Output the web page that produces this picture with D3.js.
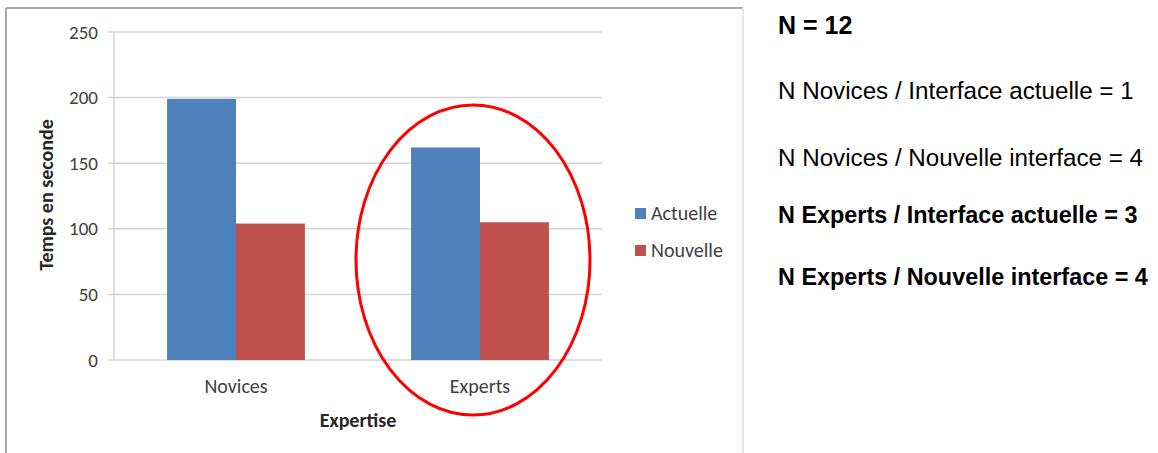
<!DOCTYPE html>
<html lang="fr">
<head>
<meta charset="UTF-8">
<title>Temps en seconde par expertise</title>
<script src="https://d3js.org/d3.v7.min.js"></script>
<style>
  body { margin: 0; background: #fff; }
  svg { display: block; }
</style>
</head>
<body>
<div id="chart"></div>
<script>
// data
const categories = ["Novices", "Experts"];
const series = ["Actuelle", "Nouvelle"];
const actuelle = [199, 162];
const nouvelle = [104, 105];
const yTicks = [0, 50, 100, 150, 200, 250];
const notes = [
  { text: "N = 12", bold: true },
  { text: "N Novices / Interface actuelle = 1", bold: false },
  { text: "N Novices / Nouvelle interface = 4", bold: false },
  { text: "N Experts / Interface actuelle = 3", bold: true },
  { text: "N Experts / Nouvelle interface = 4", bold: true }
];
const noteBaselines = [34, 99, 166, 223, 285];

const colors = { Actuelle: "#4f81bd", Nouvelle: "#c0504d" };
const chartFont = "Carlito, Lato, 'Liberation Sans', sans-serif";
const noteFont = "'Liberation Sans Narrow', 'Liberation Sans', sans-serif";

const W = 1158, H = 453;
const svg = d3.select("#chart").append("svg")
  .attr("width", W).attr("height", H);

// chart frame
svg.append("line").attr("x1", 6).attr("x2", 743).attr("y1", 8).attr("y2", 8)
  .attr("stroke", "#8c8c8c").attr("stroke-width", 1.5);
svg.append("line").attr("x1", 6).attr("x2", 6).attr("y1", 8).attr("y2", H)
  .attr("stroke", "#8c8c8c").attr("stroke-width", 1.5);
svg.append("line").attr("x1", 743).attr("x2", 743).attr("y1", 8).attr("y2", H)
  .attr("stroke", "#e6e6e6").attr("stroke-width", 2);

const plot = { left: 114, right: 602, top: 32, bottom: 360 };

const y = d3.scaleLinear().domain([0, 250]).range([plot.bottom, plot.top]);
const x0 = d3.scaleBand().domain(categories).range([plot.left, plot.right]).padding(0);
const x1 = d3.scaleBand().domain(series).range([0, x0.bandwidth()]).paddingOuter(0.77);

// gridlines
svg.append("g")
  .selectAll("line").data(yTicks).join("line")
  .attr("x1", plot.left - 6).attr("x2", plot.right)
  .attr("y1", d => y(d)).attr("y2", d => y(d))
  .attr("stroke", "#d4d4d4").attr("stroke-width", 1.5);

// y axis line
svg.append("line")
  .attr("x1", plot.left).attr("x2", plot.left)
  .attr("y1", plot.top).attr("y2", plot.bottom)
  .attr("stroke", "#d4d4d4").attr("stroke-width", 1.5);

// y axis labels
const yAxis = svg.append("g")
  .attr("transform", `translate(${plot.left - 16},0)`)
  .call(d3.axisLeft(y).tickValues(yTicks).tickSize(0).tickPadding(0));
yAxis.select(".domain").remove();
yAxis.selectAll("text")
  .attr("font-family", chartFont).attr("font-size", 19).attr("fill", "#404040");

// bars
const rows = categories.map((c, i) => ({ cat: c, Actuelle: actuelle[i], Nouvelle: nouvelle[i] }));
svg.append("g")
  .selectAll("g").data(rows).join("g")
  .attr("transform", d => `translate(${x0(d.cat)},0)`)
  .selectAll("rect").data(d => series.map(s => ({ s, v: d[s] }))).join("rect")
  .attr("x", d => x1(d.s))
  .attr("width", x1.bandwidth())
  .attr("y", d => y(d.v))
  .attr("height", d => y(0) - y(d.v))
  .attr("fill", d => colors[d.s]);

// x axis labels
const xAxis = svg.append("g")
  .attr("transform", `translate(0,${plot.bottom + 19})`)
  .call(d3.axisBottom(x0).tickSize(0).tickPadding(0));
xAxis.select(".domain").remove();
xAxis.selectAll("text")
  .attr("font-family", chartFont).attr("font-size", 20).attr("fill", "#404040");

// axis titles
svg.append("text")
  .attr("x", 358).attr("y", 427)
  .attr("text-anchor", "middle")
  .attr("font-family", chartFont).attr("font-size", 20).attr("font-weight", "bold")
  .attr("fill", "#262626")
  .text("Expertise");

svg.append("text")
  .attr("transform", "translate(53,195) rotate(-90)")
  .attr("text-anchor", "middle")
  .attr("font-family", chartFont).attr("font-size", 20).attr("font-weight", "bold")
  .attr("fill", "#262626")
  .text("Temps en seconde");

// legend
const legend = svg.append("g").attr("transform", "translate(635,0)");
const legY = d3.scalePoint().domain(series).range([214, 251]);
legend.selectAll("rect").data(series).join("rect")
  .attr("x", 0).attr("y", d => legY(d) - 6)
  .attr("width", 11).attr("height", 11)
  .attr("fill", d => colors[d]);
legend.selectAll("text").data(series).join("text")
  .attr("x", 16).attr("y", d => legY(d) + 6)
  .attr("font-family", chartFont).attr("font-size", 20).attr("fill", "#404040")
  .text(d => d);

// highlight ellipse around Experts
svg.append("ellipse")
  .attr("cx", x0("Experts") + x0.bandwidth() / 2 - 7)
  .attr("cy", 260)
  .attr("rx", 117).attr("ry", 155)
  .attr("fill", "none")
  .attr("stroke", "#ff0000").attr("stroke-width", 3);

// notes on the right
svg.append("g")
  .selectAll("text").data(notes).join("text")
  .attr("x", 778)
  .attr("y", (d, i) => noteBaselines[i])
  .attr("font-family", noteFont)
  .attr("font-size", (d, i) => i === 0 ? 25 : (d.bold ? 23.4 : 24.2))
  .attr("font-weight", d => d.bold ? "bold" : "normal")
  .attr("fill", "#000")
  .text(d => d.text);
</script>
</body>
</html>
